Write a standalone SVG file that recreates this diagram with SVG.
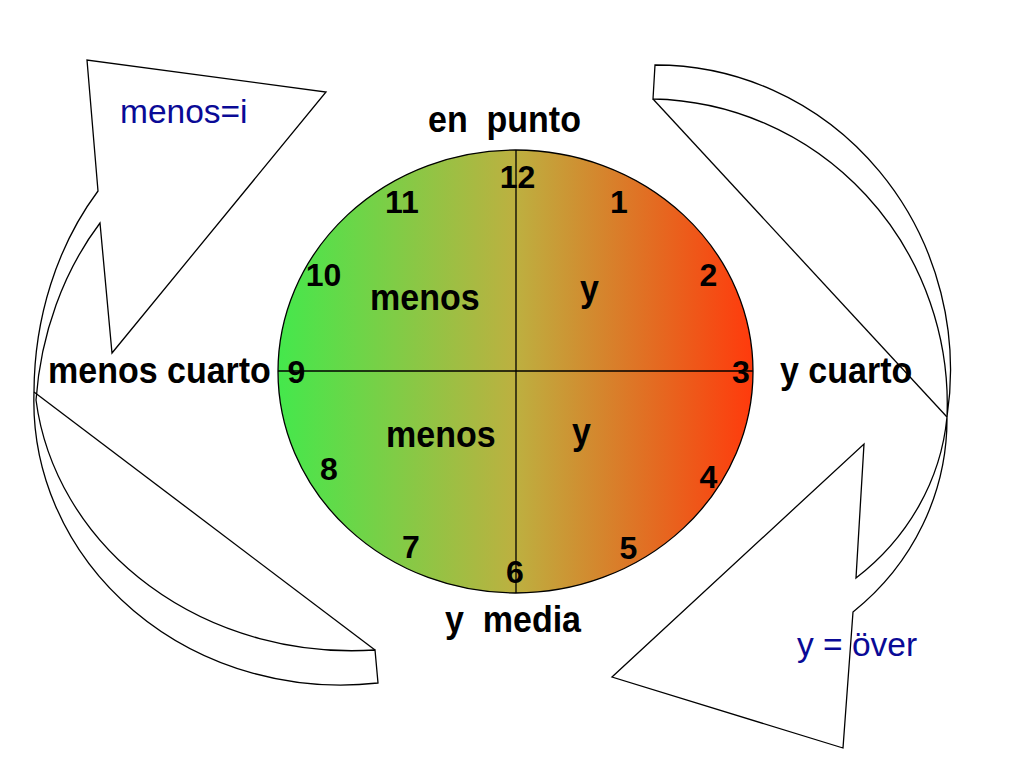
<svg xmlns="http://www.w3.org/2000/svg" width="1024" height="768" viewBox="0 0 1024 768">
<defs>
<linearGradient id="clockGrad" x1="0" y1="0" x2="1" y2="0">
<stop offset="0" stop-color="#44E84C"/>
<stop offset="0.5" stop-color="#BDB040"/>
<stop offset="1" stop-color="#FF3A0C"/>
</linearGradient>
<style>
.arrow{fill:#ffffff;stroke:#000000;stroke-width:1.3;stroke-linejoin:miter}
.line{fill:none;stroke:#000000;stroke-width:1.3}
.lbl{font-family:"Liberation Sans",Arial,sans-serif;font-weight:bold;font-size:34px;fill:#000000;white-space:pre}
.num{font-family:"Liberation Sans",Arial,sans-serif;font-weight:bold;font-size:32px;fill:#000000;text-anchor:middle}
.blue{font-family:"Liberation Sans",Arial,sans-serif;font-size:33.5px;fill:#0A0A96;white-space:pre}
</style>
</defs>
<rect width="1024" height="768" fill="#ffffff"/>
<g id="connectors">
<g id="arrow-left">
<path class="arrow" d="M98,191 L87,60 L326,92 L112,353 L100,223 A245,300 0 0 0 36,400 A318,284 0 0 0 375,650 L378,683 A307,284 0 0 1 34,392 A245,300 0 0 1 98,191 Z"/>
<line class="line" x1="34" y1="392" x2="375" y2="650"/>
</g>
<g id="arrow-right">
<path class="arrow" d="M856,578 L864,444 L612,677 L843,748 L853,612 A258,250 0 0 0 947,417 A295,305 0 0 0 655,65 L653,99 A300,305 0 0 1 947,417 A250,235 0 0 1 856,578 Z"/>
<line class="line" x1="653" y1="99" x2="947" y2="417"/>
</g>
</g>
<g id="clock">
<ellipse cx="515.5" cy="371.5" rx="237.5" ry="221.5" fill="url(#clockGrad)" stroke="#000000" stroke-width="1.3"/>
<line class="line" x1="516" y1="150" x2="516" y2="593"/>
<line class="line" x1="278" y1="371" x2="753" y2="371"/>
</g>
<g id="numbers">
<text class="num" x="517.5" y="188">12</text>
<text class="num" x="402" y="213">11</text>
<text class="num" x="619" y="213">1</text>
<text class="num" x="323.5" y="286">10</text>
<text class="num" x="708.5" y="286">2</text>
<text class="num" x="296.5" y="383">9</text>
<text class="num" x="741" y="383">3</text>
<text class="num" x="329" y="480">8</text>
<text class="num" x="708.5" y="488">4</text>
<text class="num" x="411" y="558">7</text>
<text class="num" x="628.5" y="559">5</text>
<text class="num" x="515" y="583">6</text>
</g>
<g id="quadrant-labels">
<text class="lbl" transform="translate(370,310) scale(1,1.08)">menos</text>
<text class="lbl" transform="translate(580,301) scale(1,1.08)">y</text>
<text class="lbl" transform="translate(386,447) scale(1,1.08)">menos</text>
<text class="lbl" transform="translate(572,444) scale(1,1.08)">y</text>
</g>
<g id="time-labels">
<text id="en-punto" class="lbl" transform="translate(428,132) scale(1,1.08)">en  punto</text>
<text id="menos-cuarto" class="lbl" transform="translate(48,383) scale(1,1.08)">menos cuarto</text>
<text id="y-cuarto" class="lbl" transform="translate(780,383) scale(1,1.08)">y cuarto</text>
<text id="y-media" class="lbl" transform="translate(445,632) scale(1,1.08)">y  media</text>
</g>
<g id="notes">
<text id="menos-i" class="blue" x="120" y="123">menos=i</text>
<text id="y-over" class="blue" x="797" y="656">y = över</text>
</g>
</svg>
